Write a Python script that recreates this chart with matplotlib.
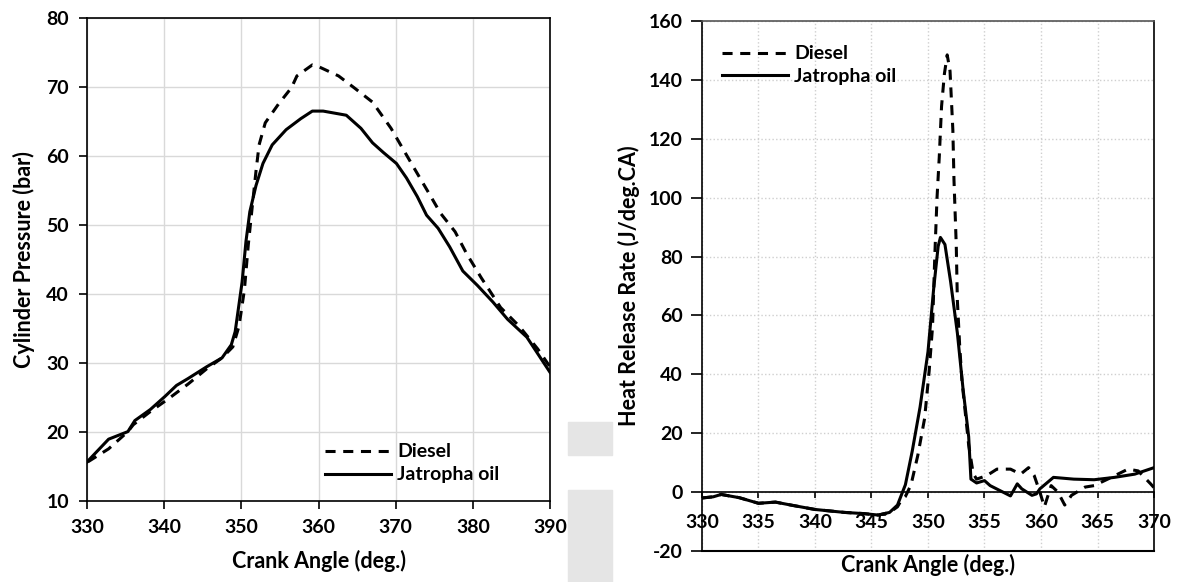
import matplotlib.pyplot as plt
from matplotlib.patches import Rectangle

plt.rcParams['font.family'] = ['Lato', 'DejaVu Sans']
plt.rcParams['font.weight'] = 'bold'
plt.rcParams['axes.labelweight'] = 'bold'
plt.rcParams['axes.unicode_minus'] = False

# ---- data: cylinder pressure (bar) vs crank angle (deg.)
p_angle_jat = [330, 332.8, 335.3, 336.2, 338.2, 340.1, 341.6, 343.1, 345.5, 347.5,
               348.7, 349.2, 349.7, 350.1, 350.6, 351.1, 351.9, 352.8, 354.0, 355.8,
               357.7, 359.2, 360.6, 363.6, 365.5, 367.0, 368.4, 370.1, 371.4, 372.8,
               374.0, 375.5, 377.0, 378.7, 380.6, 382.6, 384.5, 387.0, 390]
p_jat = [15.6, 18.9, 20.0, 21.6, 23.2, 25.1, 26.7, 27.7, 29.4, 30.7,
         32.6, 34.5, 38.5, 41.7, 47.6, 51.9, 55.7, 58.9, 61.6, 63.8,
         65.4, 66.5, 66.5, 65.9, 64.0, 61.9, 60.5, 58.9, 56.8, 54.1,
         51.4, 49.5, 46.8, 43.3, 41.2, 38.8, 36.3, 33.7, 28.6]

p_angle_die = [330.1, 332.8, 335.3, 336.0, 338.2, 340.6, 343.1, 345.5, 347.5, 348.9,
               349.7, 350.4, 350.9, 351.4, 351.9, 352.3, 353.1, 354.8, 356.5, 357.2,
               359.2, 360.1, 362.6, 364.6, 367.0, 369.4, 370.9, 372.3, 374.3, 375.8,
               377.7, 379.2, 381.1, 383.6, 386.0, 388.4, 390]
p_die = [15.6, 17.5, 20.0, 21.0, 22.9, 24.8, 26.9, 29.1, 30.7, 32.3,
         35.3, 40.6, 47.1, 52.5, 57.8, 61.6, 64.8, 67.5, 69.9, 71.6,
         73.2, 72.9, 71.6, 69.9, 67.8, 64.0, 61.1, 58.4, 54.6, 51.7,
         49.0, 45.8, 42.3, 38.0, 35.3, 32.0, 29.4]

# ---- data: heat release rate (J/deg.CA) vs crank angle (deg.)
h_angle_jat = [330, 331, 331.7, 333.3, 335, 336.5, 338, 340, 342.6, 344.3,
               345.6, 346.6, 347.3, 348.0, 348.6, 349.3, 350.0, 350.5, 350.9, 351.1,
               351.5, 352.0, 352.6, 353.1, 353.6, 353.8, 354.3, 355.0, 355.5, 357.3,
               357.9, 358.3, 359.2, 359.6, 359.9, 361.1, 362.9, 364.7, 366.5, 368.3, 370]
h_jat = [-2.0, -1.6, -0.8, -1.9, -3.8, -3.4, -4.5, -5.9, -6.9, -7.3,
         -7.8, -6.9, -4.4, 2.5, 13.8, 28.9, 47.7, 69.0, 83.5, 86.5,
         84.1, 71.5, 54.0, 35.1, 18.8, 4.4, 3.1, 3.9, 2.2, -1.3,
         2.8, 1.1, -1.1, -0.6, 1.1, 5.0, 4.4, 4.2, 5.0, 6.1, 8.3]

h_angle_die = [330, 331, 331.7, 333.3, 335, 336.5, 338, 340, 342.6, 344.3,
               345.6, 346.6, 347.3, 347.6, 348.0, 348.5, 349.1, 349.7, 350.1, 350.4,
               350.6, 350.8, 351.0, 351.2, 351.45, 351.7, 351.95, 352.2, 352.3, 352.5,
               352.6, 352.8, 353.0, 353.3, 353.6, 354.0, 354.3, 355.2, 356.1, 357.3,
               358.2, 358.9, 359.4, 359.9, 360.3, 360.9, 361.5, 362.1, 362.7, 363.9,
               364.7, 365.9, 367.7, 368.6, 369.7, 370]
h_die = [-2.0, -1.6, -0.8, -1.9, -3.8, -3.4, -4.5, -5.9, -6.9, -7.3,
         -7.8, -6.9, -5.0, -3.0, -1.5, 2.5, 12.5, 25.0, 41.0, 56.0,
         80.0, 100.0, 114.0, 131.0, 142.0, 148.5, 143.0, 123.0, 106.0, 84.0,
         65.0, 50.0, 38.0, 27.0, 16.0, 6.3, 4.4, 5.6, 7.8, 7.8,
         6.1, 8.3, 5.6, 0.0, -5.0, 2.2, 0.0, -4.4, -1.1, 1.7,
         2.2, 4.4, 7.8, 7.2, 2.8, 1.5]

fig = plt.figure(figsize=(11.79, 5.82), dpi=100)

# faint background blocks from the scanned page
fig.patches.append(Rectangle((0.482, 0.218), 0.037, 0.057, transform=fig.transFigure,
                             color='#e5e5e5', zorder=0))
fig.patches.append(Rectangle((0.482, 0.0), 0.037, 0.158, transform=fig.transFigure,
                             color='#e5e5e5', zorder=0))

dash = (3.3, 2.5)
lw = 2.2
fs_tick = 14
fs_label = 15.5

# ---- left: cylinder pressure
ax1 = fig.add_axes([0.0738, 0.140, 0.3927, 0.829])
ax1.plot(p_angle_die, p_die, color='black', lw=lw, dashes=dash, label='Diesel')
ax1.plot(p_angle_jat, p_jat, color='black', lw=lw, label='Jatropha oil')
ax1.set_xlim(330, 390)
ax1.set_ylim(10, 80)
ax1.set_xticks(range(330, 391, 10))
ax1.set_yticks(range(10, 81, 10))
ax1.grid(True, color='#d9d9d9', lw=1.0)
ax1.set_axisbelow(True)
for s in ax1.spines.values():
    s.set_color('black')
    s.set_linewidth(1.2)
ax1.tick_params(direction='out', length=6, width=1.2, labelsize=fs_tick, pad=7)
ax1.set_xlabel('Crank Angle (deg.)', fontsize=fs_label, labelpad=10)
ax1.set_ylabel('Cylinder Pressure (bar)', fontsize=fs_label, labelpad=8)
ax1.legend(loc='upper left', bbox_to_anchor=(0.2757, 0.238), bbox_transform=fig.transFigure,
           frameon=False, prop={'size': fs_tick, 'weight': 'bold'}, handlelength=3.4,
           handletextpad=0.3, labelspacing=0.3, borderpad=0, borderaxespad=0)

# ---- right: heat release rate
ax2 = fig.add_axes([0.5954, 0.0533, 0.3834, 0.9106])
ax2.plot(h_angle_die, h_die, color='black', lw=lw, dashes=dash, label='Diesel')
ax2.plot(h_angle_jat, h_jat, color='black', lw=lw, label='Jatropha oil')
ax2.set_xlim(330, 370)
ax2.set_ylim(-20, 160)
ax2.set_xticks(range(330, 371, 5))
ax2.set_yticks(range(-20, 161, 20))
ax2.grid(True, color='#cfcfcf', lw=1.0, ls=':')
ax2.set_axisbelow(True)
ax2.spines['bottom'].set_position(('data', 0))
for s in ax2.spines.values():
    s.set_color('black')
    s.set_linewidth(1.2)
ax2.spines['top'].set_color('#555555')
ax2.axhline(-20, color='black', lw=1.5, clip_on=False)
ax2.tick_params(axis='x', direction='out', length=4, width=1.2, labelsize=fs_tick, pad=12)
ax2.tick_params(axis='y', direction='out', length=8, width=1.2, labelsize=fs_tick, pad=6)
ax2.text(0.5, -0.005, 'Crank Angle (deg.)', transform=ax2.transAxes, ha='center', va='top',
         fontsize=fs_label, fontweight='bold')
ax2.set_ylabel('Heat Release Rate (J/deg.CA)', fontsize=fs_label, labelpad=6)
ax2.legend(loc='upper left', bbox_to_anchor=(0.6124, 0.922), bbox_transform=fig.transFigure,
           frameon=False, prop={'size': fs_tick, 'weight': 'bold'}, handlelength=3.4,
           handletextpad=0.3, labelspacing=0.3, borderpad=0, borderaxespad=0)

for ax in (ax1, ax2):
    for lbl in ax.get_xticklabels() + ax.get_yticklabels():
        lbl.set_fontweight('bold')

fig.savefig('out.png', dpi=100)
